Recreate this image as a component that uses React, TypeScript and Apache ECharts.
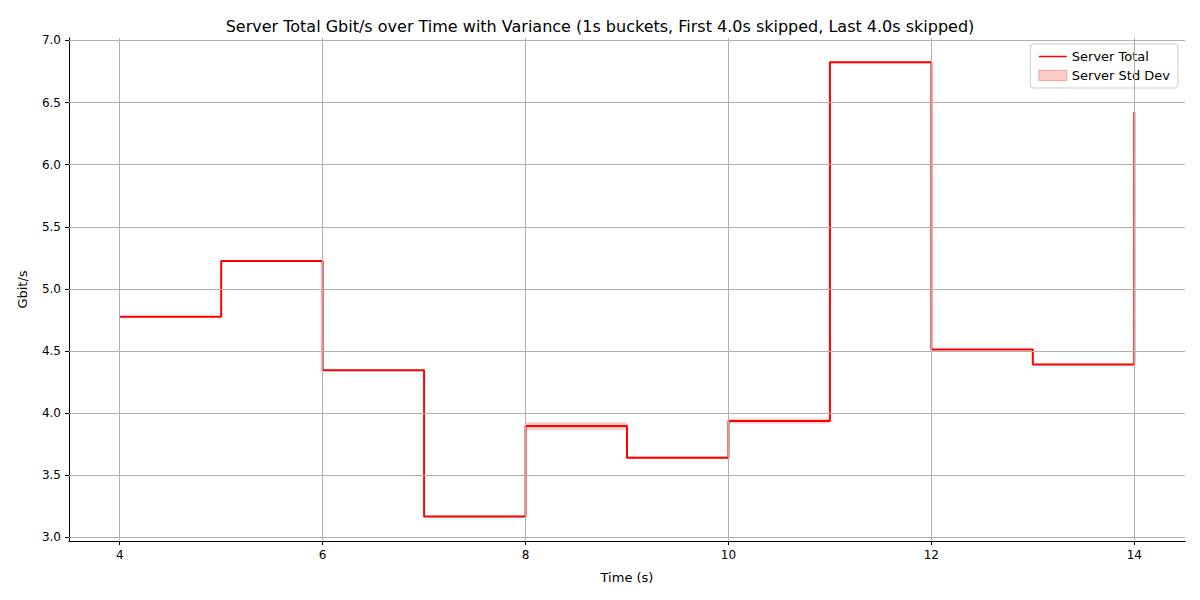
import React, { useEffect, useRef } from "react";
import * as echarts from "echarts";

const times = [4, 5, 6, 7, 8, 9, 10, 11, 12, 13, 14];
const totals = [4.776, 5.224, 4.344, 3.168, 3.896, 3.64, 3.936, 6.824, 4.512, 4.392, 6.424];
const stdDev = [0.006, 0.006, 0.006, 0.006, 0.03, 0.01, 0.02, 0.008, 0.006, 0.006, 0.0];
const xTicks = [4, 6, 8, 10, 12, 14];
const yTicks = [3.0, 3.5, 4.0, 4.5, 5.0, 5.5, 6.0, 6.5, 7.0];

const App = () => {
  const chartRef = useRef<HTMLDivElement>(null);

  useEffect(() => {
    // @ts-ignore
    const chart = echarts.init(chartRef.current, null, { renderer: "svg" });
    const font = "DejaVu Sans";
    const gridColor = "#b0b0b0";
    const bandColor = "rgba(255,0,0,0.2)";

    // band segments: [start, end, low, high]
    const bandData = times.slice(0, -1).map((t, i) => [t, times[i + 1], totals[i] - stdDev[i], totals[i] + stdDev[i]]);

    const options = {
      animation: false,
      textStyle: { fontFamily: font },
      title: {
        text: "Server Total Gbit/s over Time with Variance (1s buckets, First 4.0s skipped, Last 4.0s skipped)",
        left: "center",
        top: 5,
        textStyle: { fontFamily: font, fontSize: 16, fontWeight: "normal", color: "#000" },
      },
      legend: {
        right: 14,
        top: 36,
        orient: "vertical",
        itemGap: 6,
        itemWidth: 28,
        itemHeight: 10,
        borderColor: "#ccc",
        borderWidth: 1,
        borderRadius: 3,
        padding: [6, 8],
        textStyle: { fontFamily: font, fontSize: 13, color: "#000" },
        data: [
          { name: "Server Total", icon: "path://M0,5 L28,5 L28,6.5 L0,6.5 Z", itemStyle: { color: "#ff0000" } },
          { name: "Server Std Dev", icon: "rect", itemStyle: { color: bandColor, borderColor: "rgba(255,0,0,0.3)", borderWidth: 1 } },
        ],
      },
      grid: { left: 58, right: 7, top: 30, bottom: 51 },
      xAxis: {
        type: "value",
        min: 3.5,
        max: 14.5,
        name: "Time (s)",
        nameLocation: "middle",
        nameGap: 30,
        nameTextStyle: { fontFamily: font, fontSize: 13, color: "#000" },
        axisLine: { onZero: false, lineStyle: { color: "#000" } },
        axisTick: { customValues: xTicks, length: 4, lineStyle: { color: "#000" } },
        axisLabel: { customValues: xTicks, fontSize: 12, color: "#000", formatter: (v: number) => String(v) },
        splitLine: { show: false },
      },
      yAxis: {
        type: "value",
        min: 2.97,
        max: 7.02,
        name: "Gbit/s",
        nameLocation: "middle",
        nameGap: 40,
        nameTextStyle: { fontFamily: font, fontSize: 13, color: "#000" },
        axisLine: { show: true, lineStyle: { color: "#000" } },
        axisTick: { show: true, customValues: yTicks, length: 4, lineStyle: { color: "#000" } },
        axisLabel: { customValues: yTicks, fontSize: 12, color: "#000", formatter: (v: number) => v.toFixed(1) },
        splitLine: { show: false },
      },
      series: [
        {
          name: "grid",
          type: "line",
          data: [],
          silent: true,
          markLine: {
            symbol: "none",
            silent: true,
            label: { show: false },
            lineStyle: { color: gridColor, type: "solid", width: 1 },
            data: [
              ...xTicks.map((v) => ({ xAxis: v })),
              ...yTicks.map((v) => ({ yAxis: v })),
            ],
          },
        },
        {
          name: "Server Std Dev",
          type: "custom",
          itemStyle: { color: bandColor },
          data: bandData,
          renderItem: (params: any, api: any) => {
            const p0 = api.coord([api.value(0), api.value(3)]);
            const p1 = api.coord([api.value(1), api.value(2)]);
            return {
              type: "rect",
              shape: { x: p0[0], y: p0[1], width: p1[0] - p0[0], height: Math.max(p1[1] - p0[1], 1) },
              style: { fill: bandColor },
            };
          },
        },
        {
          name: "Server Total",
          type: "line",
          step: "end",
          symbol: "none",
          lineStyle: { color: "#ff0000", width: 2 },
          itemStyle: { color: "#ff0000" },
          data: times.map((t, i) => [t, totals[i]]),
        },
      ],
    };

    chart.setOption(options);
    return () => {
      chart.dispose();
    };
  }, []);

  return <div ref={chartRef} style={{ width: "1184px", height: "584px" }} />;
};

export default App;
